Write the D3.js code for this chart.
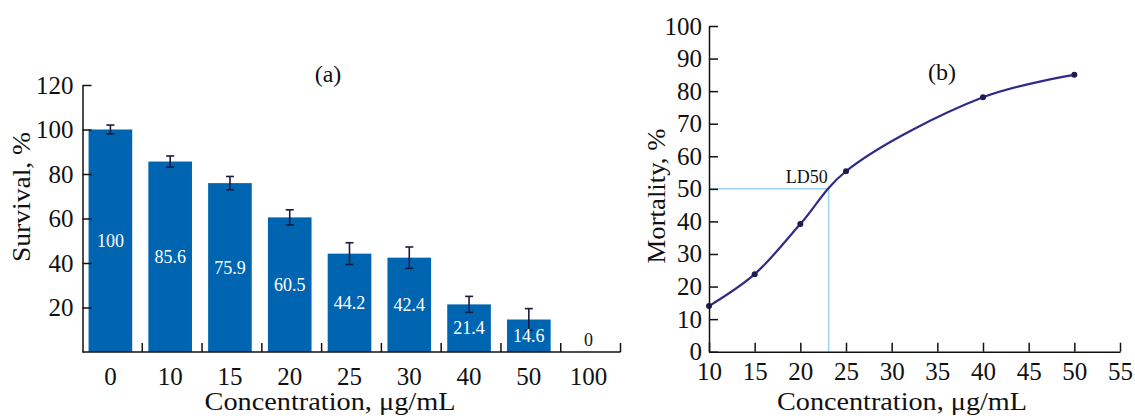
<!DOCTYPE html>
<meta charset="utf-8">
<title>Survival and mortality</title>
<style>
body {
  margin: 0;
  background: #fff;
}
text {
  font-family: "Liberation Serif", "Times New Roman", serif;
  fill: #111;
}
.axis text {
  font-size: 25px;
}
.axis path, .axis line {
  stroke: #111;
  stroke-width: 1.5px;
}
</style>
<body>
<script src="https://d3js.org/d3.v7.min.js"></script>
<script>
// panel (a): survival per concentration
var concA = ["0", "10", "15", "20", "25", "30", "40", "50", "100"],
    survival = [100, 85.6, 75.9, 60.5, 44.2, 42.4, 21.4, 14.6, 0],
    survivalErr = [2, 2.5, 3, 3.4, 4.9, 4.8, 3.6, 4.9, 0],
    survivalTicks = [20, 40, 60, 80, 100, 120];

// panel (b): mortality curve
var concB = [10, 15, 20, 25, 40, 50],
    mortality = [14, 23.8, 39.2, 55.4, 78.1, 85],
    mortalityTicks = d3.range(0, 101, 10),
    concTicks = d3.range(10, 56, 5),
    ld50 = 23.1;

var svg = d3.select("body").append("svg")
    .attr("width", 1135)
    .attr("height", 420);

// ---------- (a) ----------
var xa = d3.scaleBand()
    .domain(concA)
    .range([82.5, 620.5])
    .paddingInner(0.27)
    .paddingOuter(0.135);
var ya = d3.scaleLinear()
    .domain([0, 120])
    .range([352, 85]);
var shift = -2;
var rowsA = concA.map(function(c, i) { return {c: c, v: survival[i], e: survivalErr[i]}; });

var ga = svg.append("g");

ga.selectAll("rect.bar")
    .data(rowsA)
  .enter().append("rect")
    .attr("class", "bar")
    .attr("x", function(d) { return xa(d.c) + shift; })
    .attr("y", function(d) { return ya(d.v); })
    .attr("width", xa.bandwidth())
    .attr("height", function(d) { return ya(0) - ya(d.v); })
    .style("fill", "#0065b1");

var err = ga.selectAll("g.err")
    .data(rowsA.filter(function(d) { return d.e > 0; }))
  .enter().append("g")
    .attr("class", "err")
    .attr("transform", function(d) { return "translate(" + (xa(d.c) + shift + xa.bandwidth() / 2) + ",0)"; })
    .style("stroke", "#1b1b3f")
    .style("stroke-width", 1.6);
err.append("line")
    .attr("y1", function(d) { return ya(d.v + d.e); })
    .attr("y2", function(d) { return ya(d.v - d.e); });
err.append("line")
    .attr("x1", -4).attr("x2", 4)
    .attr("y1", function(d) { return ya(d.v + d.e); })
    .attr("y2", function(d) { return ya(d.v + d.e); });
err.append("line")
    .attr("x1", -4).attr("x2", 4)
    .attr("y1", function(d) { return ya(d.v - d.e); })
    .attr("y2", function(d) { return ya(d.v - d.e); });

ga.selectAll("text.val")
    .data(rowsA)
  .enter().append("text")
    .attr("class", "val")
    .attr("x", function(d) { return xa(d.c) + shift + xa.bandwidth() / 2; })
    .attr("y", function(d) { return d.v > 0 ? (ya(d.v) + ya(0)) / 2 : ya(0) - 12; })
    .attr("dy", "0.35em")
    .attr("text-anchor", "middle")
    .style("font-size", "18px")
    .style("fill", function(d) { return d.v > 0 ? "#fff" : "#111"; })
    .text(function(d) { return d.v; });

ga.append("g")
    .attr("class", "axis")
    .attr("transform", "translate(82.5,0)")
    .call(d3.axisLeft(ya).tickValues(survivalTicks).tickSize(-9).tickSizeOuter(0).tickPadding(9))
    .attr("font-size", null)
    .attr("font-family", null);

var xAxisA = ga.append("g").attr("class", "axis");
xAxisA.append("line")
    .attr("x1", xa.range()[0]).attr("x2", xa.range()[1])
    .attr("y1", ya(0)).attr("y2", ya(0));
xAxisA.selectAll("line.tick")
    .data(concA)
  .enter().append("line")
    .attr("class", "tick")
    .attr("x1", function(d) { return xa(d) + xa.bandwidth() + xa.step() * xa.paddingInner() / 2; })
    .attr("x2", function(d) { return xa(d) + xa.bandwidth() + xa.step() * xa.paddingInner() / 2; })
    .attr("y1", ya(0)).attr("y2", ya(0) - 9);
xAxisA.selectAll("text")
    .data(concA)
  .enter().append("text")
    .attr("x", function(d) { return xa(d) + shift + xa.bandwidth() / 2; })
    .attr("y", 385)
    .attr("text-anchor", "middle")
    .text(function(d) { return d; });

ga.append("text")
    .attr("transform", "translate(30,197)rotate(-90)")
    .attr("text-anchor", "middle")
    .attr("textLength", 130)
    .attr("lengthAdjust", "spacingAndGlyphs")
    .style("font-size", "25px")
    .text("Survival, %");
ga.append("text")
    .attr("x", 330).attr("y", 410)
    .attr("text-anchor", "middle")
    .attr("textLength", 251)
    .attr("lengthAdjust", "spacingAndGlyphs")
    .style("font-size", "25px")
    .text("Concentration, μg/mL");
ga.append("text")
    .attr("x", 328).attr("y", 82)
    .attr("text-anchor", "middle")
    .style("font-size", "24px")
    .text("(a)");

// ---------- (b) ----------
var xb = d3.scaleLinear()
    .domain([10, 55])
    .range([709, 1120]);
var yb = d3.scaleLinear()
    .domain([0, 100])
    .range([351.7, 26]);
var rowsB = concB.map(function(c, i) { return {c: c, v: mortality[i]}; });

var gb = svg.append("g");

gb.append("path")
    .attr("d", "M" + xb(10) + "," + yb(50) + "H" + xb(ld50) + "V" + yb(0))
    .style("fill", "none")
    .style("stroke", "#9fd3f2")
    .style("stroke-width", 1.5);
gb.append("text")
    .attr("x", xb(ld50) - 1)
    .attr("y", yb(50) - 6)
    .attr("text-anchor", "end")
    .style("font-size", "18px")
    .text("LD50");

var line = d3.line()
    .x(function(d) { return xb(d.c); })
    .y(function(d) { return yb(d.v); })
    .curve(d3.curveCatmullRom.alpha(0.5));
gb.append("path")
    .datum(rowsB)
    .attr("d", line)
    .style("fill", "none")
    .style("stroke", "#2e2b88")
    .style("stroke-width", 2.2);
gb.selectAll("circle")
    .data(rowsB)
  .enter().append("circle")
    .attr("cx", function(d) { return xb(d.c); })
    .attr("cy", function(d) { return yb(d.v); })
    .attr("r", 3)
    .style("fill", "#1c1c50");

gb.append("g")
    .attr("class", "axis")
    .attr("transform", "translate(709,0)")
    .call(d3.axisLeft(yb).tickValues(mortalityTicks).tickSize(-9).tickSizeOuter(0).tickPadding(7))
    .attr("font-size", null)
    .attr("font-family", null);
gb.append("g")
    .attr("class", "axis")
    .attr("transform", "translate(0," + yb(0) + ")")
    .call(d3.axisBottom(xb).tickValues(concTicks).tickSize(-9).tickSizeOuter(0).tickPadding(11))
    .attr("font-size", null)
    .attr("font-family", null);

gb.append("text")
    .attr("transform", "translate(665,196)rotate(-90)")
    .attr("text-anchor", "middle")
    .attr("textLength", 135)
    .attr("lengthAdjust", "spacingAndGlyphs")
    .style("font-size", "25px")
    .text("Mortality, %");
gb.append("text")
    .attr("x", 902).attr("y", 410)
    .attr("text-anchor", "middle")
    .attr("textLength", 250)
    .attr("lengthAdjust", "spacingAndGlyphs")
    .style("font-size", "25px")
    .text("Concentration, μg/mL");
gb.append("text")
    .attr("x", 942).attr("y", 80)
    .attr("text-anchor", "middle")
    .style("font-size", "24px")
    .text("(b)");
</script>
